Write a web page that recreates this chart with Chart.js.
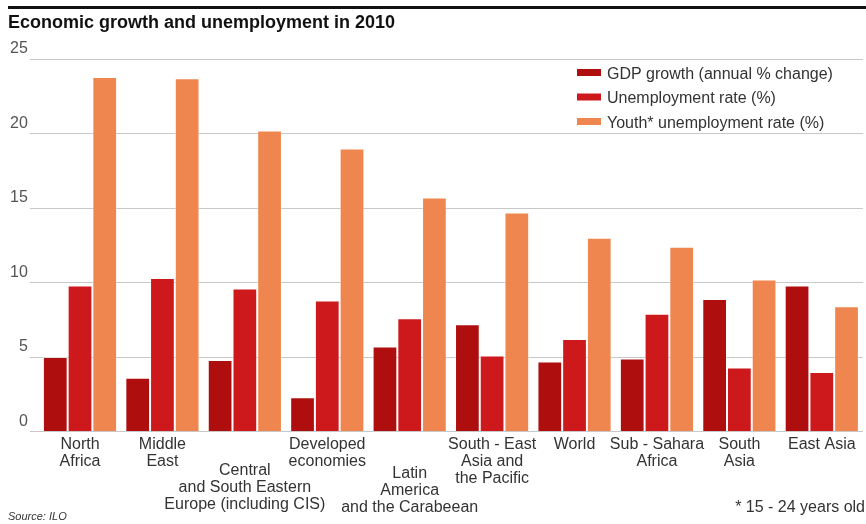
<!DOCTYPE html>
<html>
<head>
<meta charset="utf-8">
<script src="https://cdn.jsdelivr.net/npm/chart.js@4.4.1/dist/chart.umd.min.js"></script>
<style>
  html, body { margin: 0; padding: 0; background: #ffffff; }
  #wrap { width: 866px; height: 524px; position: relative; }
</style>
</head>
<body>
<div id="wrap"><canvas id="c" width="866" height="524"></canvas></div>
<script>
// ---- data ----
const categories = [
  ["North", "Africa"],
  ["Middle", "East"],
  ["Central", "and South Eastern", "Europe (including CIS)"],
  ["Developed", "economies"],
  ["Latin", "America", "and the Carabeean"],
  ["South - East", "Asia and", "the Pacific"],
  ["World"],
  ["Sub - Sahara", "Africa"],
  ["South", "Asia"],
  ["East Asia"]
];
const gdpGrowth = [5.0, 3.6, 4.8, 2.3, 5.7, 7.2, 4.7, 4.9, 8.9, 9.8];
const unemploymentRate = [9.8, 10.3, 9.6, 8.8, 7.6, 5.1, 6.2, 7.9, 4.3, 4.0];
const youthUnemploymentRate = [23.8, 23.7, 20.2, 19.0, 15.7, 14.7, 13.0, 12.4, 10.2, 8.4];
const seriesNames = ["GDP growth (annual % change)", "Unemployment rate (%)", "Youth* unemployment rate (%)"];
const yTicks = [0, 5, 10, 15, 20, 25];
const titleText = "Economic growth and unemployment in 2010";
const sourceText = "Source: ILO";
const noteText = "* 15 - 24 years old";

const colors = ["#ae0f0e", "#cd181c", "#f0864f"];
const FONT = "'Liberation Sans', Arial, sans-serif";

// lower the labels of a few categories (as in the original)
const labelDrop = [0, 0, 26, 0, 29, 0, 0, 0, 0, 0];

const decor = {
  id: 'decor',
  afterDraw(chart) {
    const ctx = chart.ctx;
    const xs = chart.scales.x;
    ctx.save();
    // top rule
    ctx.fillStyle = '#111';
    ctx.fillRect(8, 6, 858, 3);
    // title
    ctx.font = "bold 18px " + FONT;
    ctx.fillStyle = '#111';
    ctx.textBaseline = 'alphabetic';
    ctx.textAlign = 'left';
    ctx.fillText(titleText, 8, 28);
    // x labels
    ctx.font = "16px " + FONT;
    ctx.fillStyle = '#333';
    ctx.textAlign = 'center';
    categories.forEach((lines, i) => {
      const x = xs.getPixelForValue(i);
      lines.forEach((ln, j) => {
        ctx.fillText(ln, x, 449 + labelDrop[i] + j * 17);
      });
    });
    // legend
    const lx = 577, ly = [72.5, 97, 121.5];
    ctx.textAlign = 'left';
    ctx.font = "16px " + FONT;
    chart.data.datasets.forEach((ds, i) => {
      ctx.fillStyle = ds.backgroundColor;
      ctx.fillRect(lx, ly[i] - 3.5, 24, 7);
      ctx.fillStyle = '#333';
      ctx.fillText(ds.label, 607, ly[i] + 6);
    });
    // source
    ctx.font = "italic 11px " + FONT;
    ctx.fillStyle = '#333';
    ctx.fillText(sourceText, 8, 520);
    // footnote
    ctx.font = "16px " + FONT;
    ctx.textAlign = 'right';
    ctx.fillText(noteText, 865, 512);
    ctx.restore();
  }
};

new Chart(document.getElementById('c'), {
  type: 'bar',
  data: {
    labels: categories.map(l => l.join(' ')),
    datasets: [
      { label: seriesNames[0], data: gdpGrowth, backgroundColor: colors[0] },
      { label: seriesNames[1], data: unemploymentRate, backgroundColor: colors[1] },
      { label: seriesNames[2], data: youthUnemploymentRate, backgroundColor: colors[2] }
    ].map(d => Object.assign(d, {
      borderColor: 'rgba(255,255,255,0.45)',
      borderWidth: 1,
      categoryPercentage: 0.9,
      barPercentage: 1.0
    }))
  },
  options: {
    responsive: false,
    animation: false,
    devicePixelRatio: 1,
    layout: { padding: { top: 59, left: 8, right: 3, bottom: 92.5 } },
    plugins: { legend: { display: false }, tooltip: { enabled: false }, title: { display: false } },
    scales: {
      x: { display: false },
      y: {
        min: 0, max: 25,
        afterBuildTicks(scale) { scale.ticks = yTicks.map(v => ({ value: v })); },
        border: { display: false },
        grid: { color: '#c8c8c8', lineWidth: 1, drawTicks: true, tickLength: 9 },
        ticks: {
          font: { size: 16, family: FONT },
          color: '#555',
          padding: 2,
          labelOffset: -10
        }
      }
    }
  },
  plugins: [decor]
});
</script>
</body>
</html>
